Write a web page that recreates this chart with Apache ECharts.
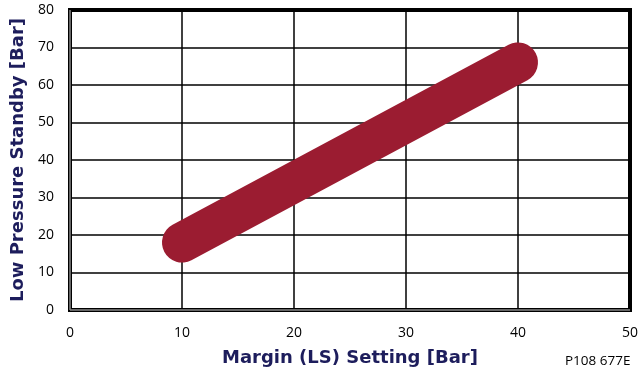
<!DOCTYPE html>
<html><head><meta charset="utf-8">
<script src="https://cdn.jsdelivr.net/npm/echarts@6/dist/echarts.min.js"></script>
<style>html,body{margin:0;padding:0;background:#fff}#c{width:638px;height:375px}</style>
</head><body><div id="c"></div>
<script>
var marginSetting = [10, 40];
var standbyPressure = [18, 66];
var xTicks = [0, 10, 20, 30, 40, 50];
var yTicks = [0, 10, 20, 30, 40, 50, 60, 70, 80];
var chart = echarts.init(document.getElementById('c'), null, {renderer: 'canvas'});
var navy = '#1d1d5c';
chart.setOption({
  animation: false,
  grid: {left: 70, right: 8, top: 10, bottom: 65, show: true, borderColor: '#000', borderWidth: 4, backgroundColor: '#fff', containLabel: false, outerBoundsMode: 'none'},
  xAxis: {
    type: 'value', min: 0, max: 50, interval: 10,
    name: 'Margin (LS) Setting [Bar]', nameLocation: 'middle', nameGap: 39,
    nameTextStyle: {fontFamily: 'DejaVu Sans', fontWeight: 'bold', fontSize: 18, color: navy},
    axisLine: {show: false}, axisTick: {show: false},
    axisLabel: {fontFamily: 'Open Sans', fontSize: 14, color: '#000', margin: 16},
    splitLine: {show: true, lineStyle: {color: '#000', width: 1.5}}
  },
  yAxis: {
    type: 'value', min: 0, max: 80, interval: 10,
    name: 'Low Pressure Standby [Bar]', nameLocation: 'middle', nameGap: 40,
    nameTextStyle: {fontFamily: 'DejaVu Sans', fontWeight: 'bold', fontSize: 18, color: navy},
    axisLine: {show: false}, axisTick: {show: false},
    axisLabel: {fontFamily: 'Open Sans', fontSize: 14, color: '#000', margin: 16},
    splitLine: {show: true, lineStyle: {color: '#000', width: 1.5}}
  },
  graphic: [
    {type: 'line', shape: {x1: 70, y1: 10, x2: 70, y2: 310}, style: {stroke: '#888', lineWidth: 1.5}, z: 100},
    {type: 'line', shape: {x1: 70, y1: 310, x2: 630, y2: 310}, style: {stroke: '#888', lineWidth: 1.5}, z: 100},
    {type: 'text', left: 565, top: 354, style: {text: 'P108 677E', fontFamily: 'Open Sans', fontSize: 13.5, fill: '#000'}}
  ],
  series: [{
    type: 'line',
    data: marginSetting.map(function (x, i) { return [x, standbyPressure[i]]; }),
    symbol: 'none',
    lineStyle: {color: '#9b1c31', width: 40, cap: 'round'},
    z: 10
  }]
});
</script></body></html>
